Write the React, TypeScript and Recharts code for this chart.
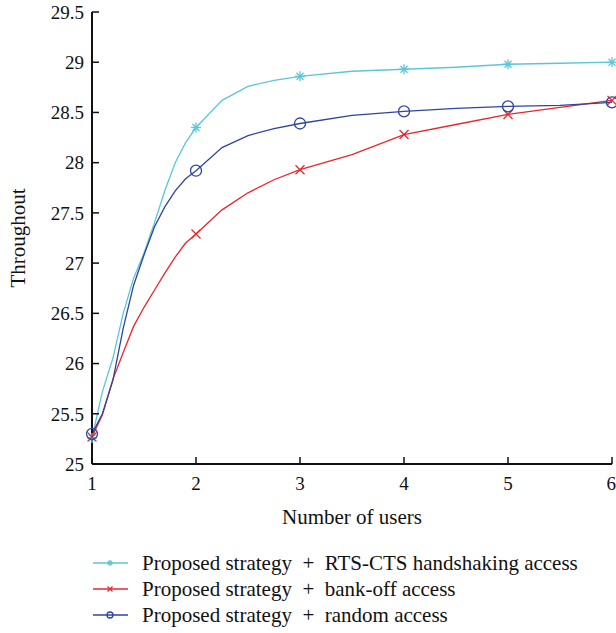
import React from "react";
import { LineChart, Line, XAxis, YAxis, Label } from "recharts";

const users = [1, 1.1, 1.2, 1.3, 1.4, 1.5, 1.6, 1.7, 1.8, 1.9, 2, 2.25, 2.5, 2.75, 3, 3.5, 4, 4.5, 5, 5.5, 6];

const rtsCts = [25.26, 25.72, 26.05, 26.5, 26.85, 27.1, 27.4, 27.72, 28.0, 28.2, 28.35, 28.62, 28.76, 28.82, 28.86, 28.91, 28.93, 28.95, 28.98, 28.99, 29.0];
const bankOff = [25.27, 25.49, 25.84, 26.11, 26.37, 26.56, 26.73, 26.9, 27.06, 27.2, 27.29, 27.53, 27.7, 27.83, 27.93, 28.08, 28.28, 28.38, 28.48, 28.55, 28.62];
const randomAccess = [25.3, 25.5, 25.83, 26.35, 26.78, 27.08, 27.36, 27.56, 27.72, 27.84, 27.92, 28.15, 28.27, 28.34, 28.39, 28.47, 28.51, 28.54, 28.56, 28.57, 28.6];

const xTicks = [1, 2, 3, 4, 5, 6];
const yTicks = [25, 25.5, 26, 26.5, 27, 27.5, 28, 28.5, 29, 29.5];

const legendLabels = [
  "Proposed strategy + RTS-CTS handshaking access",
  "Proposed strategy + bank-off access",
  "Proposed strategy + random access",
];

const CYAN = "#5cc6d9";
const RED = "#e8262c";
const BLUE = "#2e45a0";
const FONT = "'Liberation Serif', 'DejaVu Serif', serif";

const data = users.map((u, i) => ({
  x: u,
  rts: rtsCts[i],
  bank: bankOff[i],
  rand: randomAccess[i],
}));

function StarMark({ cx, cy, color, r = 5 }: { cx: number; cy: number; color: string; r?: number }) {
  const d = r * 0.7;
  return (
    <g stroke={color} strokeWidth={1.3}>
      <line x1={cx - r} y1={cy} x2={cx + r} y2={cy} />
      <line x1={cx} y1={cy - r} x2={cx} y2={cy + r} />
      <line x1={cx - d} y1={cy - d} x2={cx + d} y2={cy + d} />
      <line x1={cx - d} y1={cy + d} x2={cx + d} y2={cy - d} />
    </g>
  );
}

function CrossMark({ cx, cy, color, r = 4.5 }: { cx: number; cy: number; color: string; r?: number }) {
  return (
    <g stroke={color} strokeWidth={1.3}>
      <line x1={cx - r} y1={cy - r} x2={cx + r} y2={cy + r} />
      <line x1={cx - r} y1={cy + r} x2={cx + r} y2={cy - r} />
    </g>
  );
}

function CircleMark({ cx, cy, color, r = 5.5 }: { cx: number; cy: number; color: string; r?: number }) {
  return <circle cx={cx} cy={cy} r={r} fill="none" stroke={color} strokeWidth={1.3} />;
}

const makeDot = (kind: "star" | "cross" | "circle", color: string) => (props: any) => {
  const { cx, cy, payload, index } = props;
  if (!Number.isInteger(payload.x)) return <g key={index} />;
  if (kind === "star") return <StarMark key={index} cx={cx} cy={cy} color={color} />;
  if (kind === "cross") return <CrossMark key={index} cx={cx} cy={cy} color={color} />;
  return <CircleMark key={index} cx={cx} cy={cy} color={color} />;
};

const tickStyle = { fill: "#111", fontSize: 19, fontFamily: FONT };
const labelStyle = { fontSize: 21, fontFamily: FONT, fill: "#111" };

export default function App() {
  const legendColors = [CYAN, RED, BLUE];
  return (
    <div style={{ position: "absolute", left: 0, top: 0, width: 616, height: 633, background: "#fff" }}>
      <LineChart width={616} height={530} data={data} margin={{ top: 12, right: 4, bottom: 0, left: 0 }}>
        <XAxis
          dataKey="x"
          type="number"
          domain={[1, 6]}
          ticks={xTicks}
          tick={tickStyle}
          tickSize={-7}
          tickMargin={20}
          height={66}
          axisLine={{ stroke: "#111", strokeWidth: 2 }}
          tickLine={{ stroke: "#111", strokeWidth: 1.5 }}
        >
          <Label value="Number of users" position="insideBottom" offset={6} style={labelStyle} />
        </XAxis>
        <XAxis
          xAxisId="top"
          orientation="top"
          dataKey="x"
          type="number"
          domain={[1, 6]}
          ticks={xTicks}
          tick={false}
          tickSize={-7}
          height={0}
          axisLine={{ stroke: "#111", strokeWidth: 2 }}
          tickLine={{ stroke: "#111", strokeWidth: 1.5 }}
        />
        <YAxis
          type="number"
          domain={[25, 29.5]}
          ticks={yTicks}
          tick={tickStyle}
          tickSize={-7}
          tickMargin={15}
          width={92}
          interval={0}
          axisLine={{ stroke: "#111", strokeWidth: 2 }}
          tickLine={{ stroke: "#111", strokeWidth: 1.5 }}
        >
          <Label
            content={({ viewBox }: any) => {
              const cx = viewBox.x + 18;
              const cy = viewBox.y + viewBox.height / 2;
              return (
                <text
                  x={cx}
                  y={cy}
                  transform={`rotate(-90 ${cx} ${cy})`}
                  textAnchor="middle"
                  dominantBaseline="central"
                  style={labelStyle}
                >
                  Throughout
                </text>
              );
            }}
          />
        </YAxis>
        <YAxis
          yAxisId="right"
          orientation="right"
          type="number"
          domain={[25, 29.5]}
          ticks={yTicks}
          tick={false}
          tickSize={-7}
          width={0}
          interval={0}
          axisLine={{ stroke: "#111", strokeWidth: 2 }}
          tickLine={{ stroke: "#111", strokeWidth: 1.5 }}
        />
        <Line type="linear" dataKey="rts" stroke={CYAN} strokeWidth={1.3} dot={makeDot("star", CYAN)} isAnimationActive={false} />
        <Line type="linear" dataKey="bank" stroke={RED} strokeWidth={1.3} dot={makeDot("cross", RED)} isAnimationActive={false} />
        <Line type="linear" dataKey="rand" stroke={BLUE} strokeWidth={1.3} dot={makeDot("circle", BLUE)} isAnimationActive={false} />
      </LineChart>
      <svg width={616} height={103} style={{ position: "absolute", left: 0, top: 530 }}>
        {legendLabels.map((label, i) => {
          const y = 33 + i * 26;
          const color = legendColors[i];
          return (
            <g key={label}>
              <line x1={93} y1={y} x2={128} y2={y} stroke={color} strokeWidth={1.3} />
              {i === 0 && <StarMark cx={110} cy={y} color={color} r={3} />}
              {i === 1 && <CrossMark cx={110} cy={y} color={color} r={2.5} />}
              {i === 2 && <CircleMark cx={110} cy={y} color={color} r={3} />}
              <text x={142} y={y} dominantBaseline="central" style={labelStyle}>
                {label.replace(" + ", "\u00a0\u00a0+\u00a0\u00a0")}
              </text>
            </g>
          );
        })}
      </svg>
    </div>
  );
}
